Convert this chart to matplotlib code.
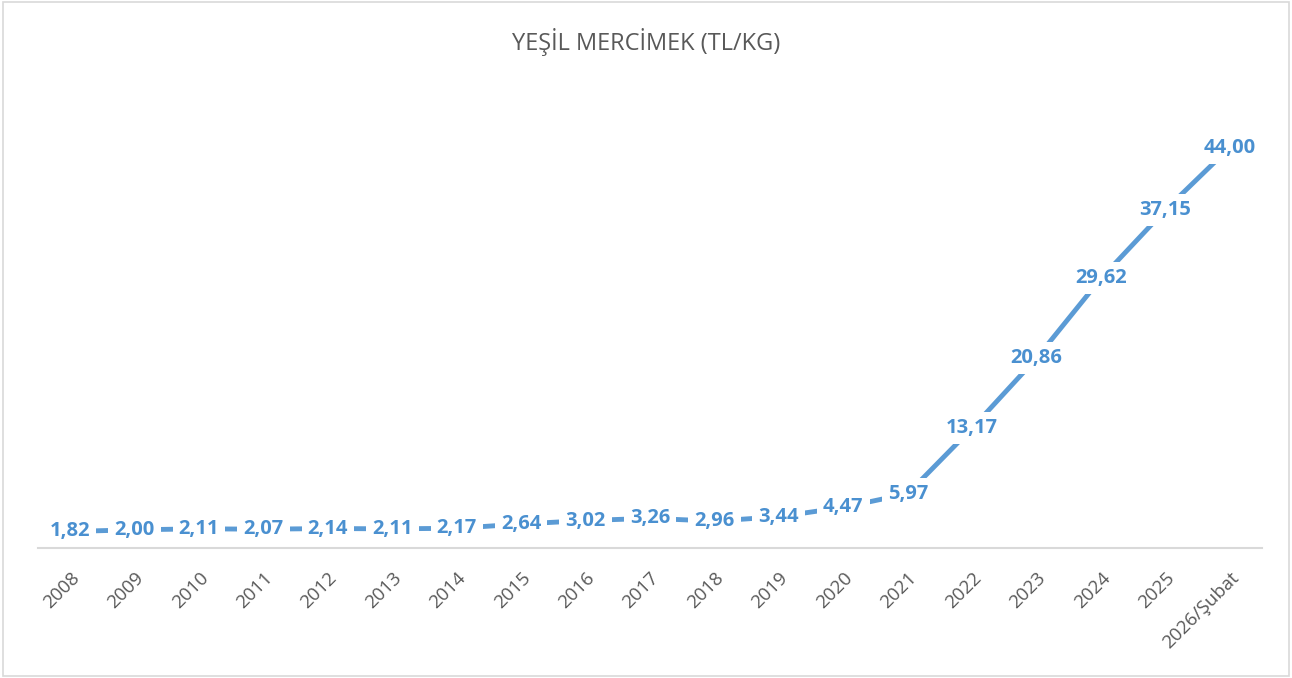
import matplotlib
matplotlib.use("Agg")
import matplotlib.pyplot as plt
from matplotlib.patches import Rectangle

# data
years = ["2008", "2009", "2010", "2011", "2012", "2013", "2014", "2015", "2016",
         "2017", "2018", "2019", "2020", "2021", "2022", "2023", "2024", "2025",
         "2026/Şubat"]
prices = [1.82, 2.00, 2.11, 2.07, 2.14, 2.11, 2.17, 2.64, 3.02, 3.26, 2.96,
          3.44, 4.47, 5.97, 13.17, 20.86, 29.62, 37.15, 44.00]

lineColor = "#5B9BD5"
labelColor = "#4A90D0"
grey = "#595959"

plt.rcParams['font.family'] = ['Open Sans', 'DejaVu Sans']

fig = plt.figure(figsize=(12.92, 6.78), dpi=100)
ax = fig.add_axes([0.0294, 0.1917, 0.9474, 0.6713])

x = list(range(len(years)))
ax.plot(x, prices, color=lineColor, lw=3.5, solid_capstyle='butt', zorder=2)

# value labels with white boxes to break the line
for xi, v in zip(x, prices):
    ax.text(xi, v, f"{v:.2f}".replace(".", ","), ha='center', va='center',
            fontsize=14.5, fontweight='bold', color=labelColor, zorder=3,
            bbox=dict(boxstyle='square,pad=0.3', fc='white', ec='none'))

ax.set_xlim(-0.5, len(years) - 0.5)
ax.set_ylim(0, 50)
ax.set_yticks([])
ax.set_xticks(x)
ax.set_xticklabels(years, rotation=45, ha='right', rotation_mode='anchor',
                   fontsize=13.5, color=grey)
ax.tick_params(axis='x', length=0, pad=15)
for s in ['top', 'right', 'left']:
    ax.spines[s].set_visible(False)
ax.spines['bottom'].set_color('#D9D9D9')
ax.spines['bottom'].set_linewidth(1.5)
ax.spines['bottom'].set_zorder(4)

fig.text(0.5, 0.938, "YEŞİL MERCİMEK (TL/KG)", ha='center', va='center',
         fontsize=17, color=grey)

# chart border
fig.patches.append(Rectangle((0.002, 0.003), 0.996, 0.994, transform=fig.transFigure,
                             fill=False, ec='#D9D9D9', lw=1.2))

fig.savefig("out.png", dpi=100)
